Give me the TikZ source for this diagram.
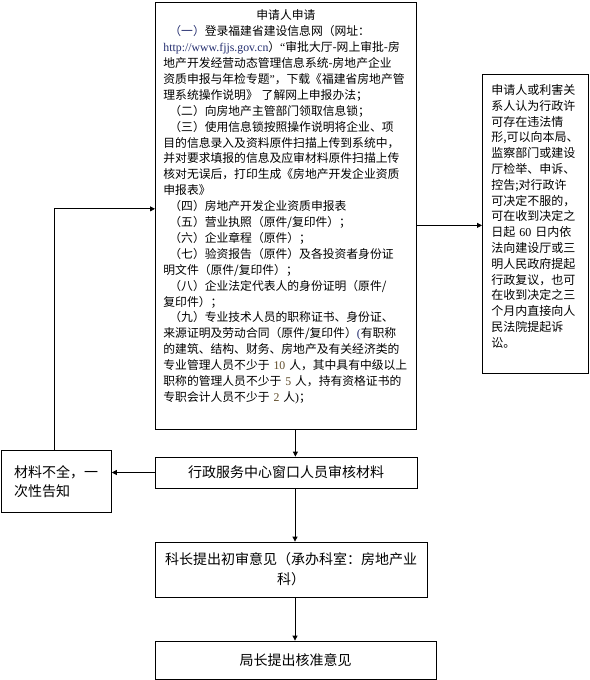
\documentclass[tikz,border=0pt]{standalone}
\usepackage{fontspec}
\setmainfont{Liberation Serif}
\newfontfamily\cjk{Noto Sans CJK SC}
\usetikzlibrary{arrows.meta}
\definecolor{numbrown}{RGB}{95,75,40}
\definecolor{parblue}{RGB}{35,45,110}
\tikzset{
  box/.style={draw, line width=0.8pt, inner xsep=8pt, inner ysep=5pt},
  arr/.style={line width=0.8pt, -{Triangle[length=5pt,width=5pt]}}
}
\newcommand{\num}[1]{{\rmfamily\color{numbrown}#1}}

\begin{document}
\begin{tikzpicture}[x=1pt,y=-1pt]
  \useasboundingbox (0,0) rectangle (589,680);

  % application box
  \node[box, anchor=north west, inner ysep=7.5pt, text width=245pt, align=left,
        font=\cjk\fontsize{11.8}{15.9}\selectfont] (apply) at (155,2) {%
    \makebox[245pt]{申请人申请}\\
    \hspace*{6pt}{\color{parblue}（一）}登录福建省建设信息网（网址：\\
    {\rmfamily\color{parblue}http://www.fjjs.gov.cn}）{\rmfamily “}审批大厅-网上审批-房\\
    地产开发经营动态管理信息系统-房地产企业\\
    资质申报与年检专题{\rmfamily ”}，下载《福建省房地产管\\
    理系统操作说明》 了解网上申报办法；\\
    \hspace*{6pt}（二）向房地产主管部门领取信息锁；\\
    \hspace*{6pt}（三）使用信息锁按照操作说明将企业、项\\
    目的信息录入及资料原件扫描上传到系统中，\\
    并对要求填报的信息及应审材料原件扫描上传\\
    核对无误后，打印生成《房地产开发企业资质\\
    申报表》\\
    \hspace*{6pt}（四）房地产开发企业资质申报表\\
    \hspace*{6pt}（五）营业执照（原件/复印件）；\\
    \hspace*{6pt}（六）企业章程（原件）；\\
    \hspace*{6pt}（七）验资报告（原件）及各投资者身份证\\
    明文件（原件/复印件）；\\
    \hspace*{6pt}（八）企业法定代表人的身份证明（原件/\\
    复印件）；\\
    \hspace*{6pt}（九）专业技术人员的职称证书、身份证、\\
    来源证明及劳动合同（原件/复印件）{\rmfamily\color{parblue}(}有职称\\
    的建筑、结构、财务、房地产及有关经济类的\\
    专业管理人员不少于~\num{10}~人，其中具有中级以上\\
    职称的管理人员不少于~\num{5}~人，持有资格证书的\\
    专职会计人员不少于~\num{2}~人{\rmfamily )}；\\
    \rule[-4.5pt]{0pt}{1pt}};

  % appeal box
  \node[box, anchor=north west, inner xsep=9pt, inner ysep=10pt, text width=88pt, align=left,
        font=\cjk\fontsize{12}{15.8}\selectfont] (appeal) at (482,74) {%
    申请人或利害关\\
    系人认为行政许\\
    可存在违法情\\
    形,可以向本局、\\
    监察部门或建设\\
    厅检举、申诉、\\
    控告;对行政许\\
    可决定不服的，\\
    可在收到决定之\\
    日起~{\rmfamily 60}~日内依\\
    法向建设厅或三\\
    明人民政府提起\\
    行政复议，也可\\
    在收到决定之三\\
    个月内直接向人\\
    民法院提起诉\\
    讼。\\
    \mbox{}};

  % lower steps
  \node[box, minimum width=262pt, minimum height=31pt,
        font=\cjk\fontsize{14}{19}\selectfont] (check) at (286,472.5) {行政服务中心窗口人员审核材料};
  \node[box, minimum width=272pt, minimum height=55pt, align=center,
        font=\cjk\fontsize{14}{20}\selectfont] (review) at (291,569.5) {科长提出初审意见（承办科室：房地产业\\科）};
  \node[box, minimum width=281pt, minimum height=38pt,
        font=\cjk\fontsize{14}{19}\selectfont] (approve) at (295.5,660) {局长提出核准意见};
  \node[box, anchor=north west, minimum width=110.5pt, minimum height=62pt, align=left,
        font=\cjk\fontsize{14}{19}\selectfont] (notice) at (0.5,450) {材料不全，一\\次性告知};

  % connectors
  \draw[arr] ([xshift=9.5pt]apply.south) -- ([xshift=9.5pt]apply.south |- check.north);
  \draw[arr] ([xshift=9pt]check.south) -- ([xshift=9pt]check.south |- review.north);
  \draw[arr] ([xshift=4pt]review.south) -- ([xshift=4pt]review.south |- approve.north);
  \draw[arr] (check.west) -- (check.west -| notice.east);
  \draw[arr] ([xshift=-1.5pt]notice.north) |- ([yshift=7pt]apply.west);
  \draw[arr] ([yshift=-9.5pt]apply.east) -- ([yshift=-9.5pt]apply.east -| appeal.west);
\end{tikzpicture}
\end{document}
